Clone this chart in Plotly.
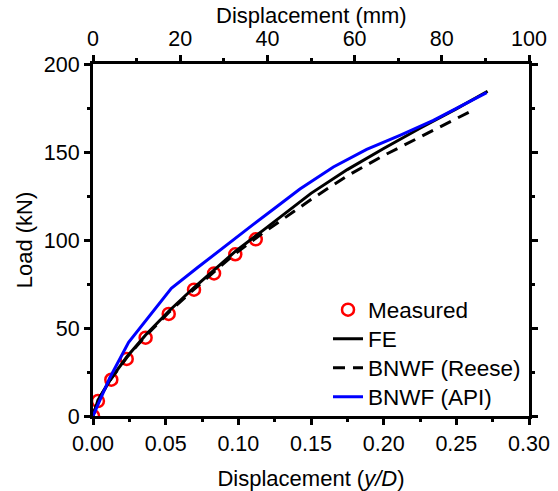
import plotly.graph_objects as go

# Measured (y/D, load kN)
meas_x = [0.0, 0.0034, 0.0126, 0.0232, 0.0362, 0.0521, 0.0695, 0.0833, 0.0979, 0.112]
meas_y = [0.0, 8.5, 20.6, 32.4, 44.5, 58.0, 71.8, 81.0, 91.9, 100.4]

# FE
fe_x = [0.0, 0.0034, 0.0126, 0.0232, 0.0362, 0.0521, 0.0695, 0.0833, 0.0979, 0.117,
        0.135, 0.15, 0.175, 0.2, 0.225, 0.25, 0.2715]
fe_y = [0.0, 9.0, 21.5, 33.5, 46.0, 59.5, 73.0, 83.0, 93.5, 105.5,
        117.0, 126.5, 140.0, 152.0, 163.5, 174.5, 184.5]

# BNWF (Reese)
re_x = [0.0, 0.0034, 0.0126, 0.0232, 0.0362, 0.0521, 0.0695, 0.0833, 0.0979, 0.117,
        0.135, 0.15, 0.175, 0.2, 0.225, 0.25, 0.2617]
re_y = [0.0, 9.0, 21.3, 33.2, 45.5, 58.8, 72.0, 81.8, 92.3, 104.0,
        114.5, 123.0, 136.5, 148.0, 158.5, 169.0, 173.9]

# BNWF (API)
api_x = [0.0, 0.0115, 0.0245, 0.0539, 0.0722, 0.09, 0.109, 0.125, 0.1424, 0.1654,
         0.1883, 0.2112, 0.2342, 0.2709]
api_y = [0.0, 21.6, 41.9, 72.5, 84.5, 96.0, 108.0, 118.0, 129.0, 141.5,
         151.5, 159.5, 168.0, 183.7]

x_ticks = [0.0, 0.05, 0.10, 0.15, 0.20, 0.25, 0.30]
mm_ticks = [0, 20, 40, 60, 80, 100]
y_ticks = [0, 50, 100, 150, 200]

FONT = "Liberation Sans, Arial, sans-serif"

fig = go.Figure()
fig.add_trace(go.Scatter(x=meas_x, y=meas_y, mode="markers", name="Measured", legend="legend",
                         marker=dict(symbol="circle-open", size=12, color="red",
                                     line=dict(width=2.5, color="red"))))
fig.add_trace(go.Scatter(x=fe_x, y=fe_y, mode="lines", name="FE", legend="legend2",
                         line=dict(color="black", width=3)))
fig.add_trace(go.Scatter(x=re_x, y=re_y, mode="lines", name="BNWF (Reese)", legend="legend3",
                         line=dict(color="black", width=3, dash="12px,8px")))
fig.add_trace(go.Scatter(x=api_x, y=api_y, mode="lines", name="BNWF (API)", legend="legend4",
                         line=dict(color="#0000ff", width=3)))
fig.add_trace(go.Scatter(x=[], y=[], xaxis="x2", yaxis="y2", showlegend=False,
                         hoverinfo="skip"))

axis_common = dict(showline=True, linewidth=3, linecolor="black", mirror=False,
                   showgrid=False, zeroline=False, ticks="outside", ticklen=6,
                   tickwidth=3, tickcolor="black", automargin=False,
                   tickfont=dict(family=FONT, size=21.5, color="black"))

# legend rows: pixel centres 310, 339, 368, 397 in a plot area from y=64 to y=416
def leg(row_px):
    return dict(x=0.539, y=(416 - row_px) / 352, xanchor="left", yanchor="middle",
                bgcolor="rgba(0,0,0,0)", borderwidth=0,
                font=dict(family=FONT, size=22.5, color="black"))

fig.update_layout(
    width=558, height=491,
    margin=dict(l=93, r=29, t=64, b=75),
    paper_bgcolor="white", plot_bgcolor="white",
    font=dict(family=FONT, color="black"),
    xaxis=dict(range=[0, 0.3], tickvals=x_ticks, tickformat=".2f",
               minor=dict(dtick=0.025, ticks="outside", ticklen=3, tickwidth=3, tickcolor="black"),
               title=dict(text="Displacement (<i>y/D</i>)", font=dict(family=FONT, size=22), standoff=18),
               **axis_common),
    xaxis2=dict(range=[0, 100], tickvals=mm_ticks, overlaying="x", side="top",
                minor=dict(dtick=10, ticks="outside", ticklen=3, tickwidth=3, tickcolor="black"),
                **axis_common),
    yaxis=dict(range=[0, 200], tickvals=y_ticks,
               minor=dict(dtick=25, ticks="outside", ticklen=3, tickwidth=3, tickcolor="black"),
               title=dict(text="Load (kN)", font=dict(family=FONT, size=22), standoff=6),
               **axis_common),
    yaxis2=dict(range=[0, 200], tickvals=y_ticks, overlaying="y", side="right",
                showticklabels=False,
                minor=dict(dtick=25, ticks="outside", ticklen=3, tickwidth=3, tickcolor="black"),
                **axis_common),
    legend=leg(310),
    legend2=leg(339),
    legend3=leg(368),
    legend4=leg(397),
    showlegend=True,
    annotations=[dict(text="Displacement (mm)", xref="paper", yref="paper",
                      x=0.5, y=(416 - 15) / 352, xanchor="center", yanchor="middle",
                      showarrow=False, font=dict(family=FONT, size=22, color="black"))],
)

fig.write_html("out.html")
